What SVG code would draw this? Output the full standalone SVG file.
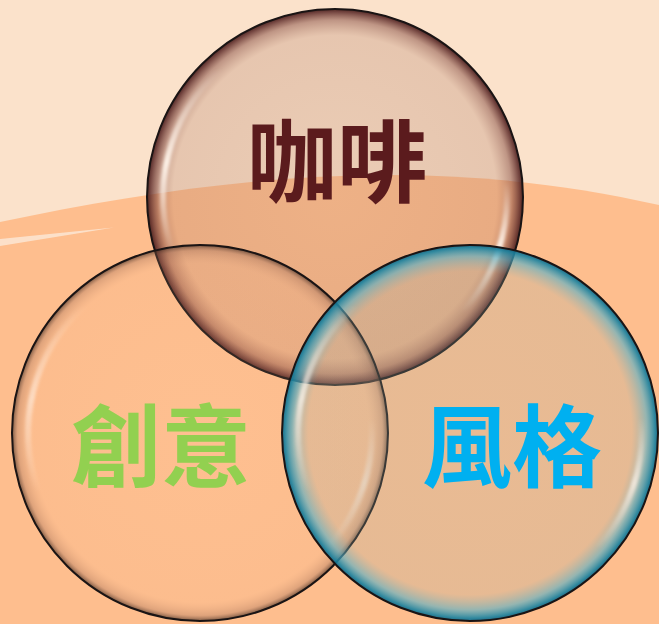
<svg xmlns="http://www.w3.org/2000/svg" width="659" height="624" viewBox="0 0 659 624">
  <defs>
    <style>
      .label { font-family: "Noto Sans CJK TC", "Noto Sans CJK SC", sans-serif; font-weight: 700; font-size: 90px; text-anchor: middle; dominant-baseline: central; }
      .edge { fill: none; stroke: #1a1414; stroke-width: 2; }
      .hl { fill: none; stroke: url(#hlGrad); stroke-width: 6; stroke-linecap: round; filter: url(#soft); }
    </style>
    <radialGradient id="gTop" cx="50%" cy="50%" r="50%">
      <stop offset="0" stop-color="rgb(180,130,105)" stop-opacity="0.22"/>
      <stop offset="0.86" stop-color="rgb(175,122,100)" stop-opacity="0.27"/>
      <stop offset="0.94" stop-color="rgb(130,72,62)" stop-opacity="0.5"/>
      <stop offset="0.985" stop-color="rgb(90,40,38)" stop-opacity="0.85"/>
      <stop offset="1" stop-color="rgb(70,30,28)" stop-opacity="0.95"/>
    </radialGradient>
    <radialGradient id="gLeft" cx="50%" cy="50%" r="50%">
      <stop offset="0" stop-color="rgb(255,205,165)" stop-opacity="0.1"/>
      <stop offset="0.9" stop-color="rgb(240,180,140)" stop-opacity="0.12"/>
      <stop offset="0.97" stop-color="rgb(150,100,80)" stop-opacity="0.3"/>
      <stop offset="1" stop-color="rgb(60,40,30)" stop-opacity="0.7"/>
    </radialGradient>
    <radialGradient id="gRight" cx="50%" cy="50%" r="50%">
      <stop offset="0" stop-color="rgb(160,175,165)" stop-opacity="0.22"/>
      <stop offset="0.86" stop-color="rgb(160,175,165)" stop-opacity="0.25"/>
      <stop offset="0.94" stop-color="rgb(80,175,200)" stop-opacity="0.6"/>
      <stop offset="0.985" stop-color="rgb(25,130,160)" stop-opacity="0.9"/>
      <stop offset="1" stop-color="rgb(20,100,130)" stop-opacity="0.95"/>
    </radialGradient>
    <linearGradient id="hlGrad" x1="0" y1="0" x2="0" y2="1">
      <stop offset="0" stop-color="#fff4ea" stop-opacity="0"/>
      <stop offset="0.5" stop-color="#fff4ea" stop-opacity="0.95"/>
      <stop offset="1" stop-color="#fff4ea" stop-opacity="0"/>
    </linearGradient>
    <filter id="soft" x="-20%" y="-20%" width="140%" height="140%">
      <feGaussianBlur stdDeviation="1.5"/>
    </filter>
  </defs>

  <g id="background">
    <rect x="0" y="0" width="659" height="624" fill="#FBE2CB"/>
    <path d="M0,222 C200,180 420,150 659,205 L659,624 L0,624 Z" fill="#FEBE8E"/>
    <path d="M0,239 L114,227.5 L0,246 Z" fill="#FCE6D4" opacity="0.85"/>
  </g>

  <g id="node-coffee">
    <circle cx="335" cy="197" r="188" fill="url(#gTop)"/>
    <path class="hl" d="M173.4,255.8 A172,172 0 0 1 219.9,69.2"/>
    <path class="hl" d="M506.3,182 A172,172 0 0 1 462.8,312.1"/>
    <circle class="edge" cx="335" cy="197" r="188"/>
  </g>

  <g id="node-creative">
    <circle cx="200" cy="433" r="188" fill="url(#gLeft)"/>
    <path class="hl" d="M38.4,491.8 A172,172 0 0 1 84.9,305.2" opacity="0.6"/>
    <path class="hl" d="M371.3,418 A172,172 0 0 1 327.8,548.1" opacity="0.6"/>
    <circle class="edge" cx="200" cy="433" r="188"/>
  </g>

  <g id="node-style">
    <circle cx="470" cy="433" r="188" fill="url(#gRight)"/>
    <path class="hl" d="M308.4,491.8 A172,172 0 0 1 354.9,305.2" opacity="0.8"/>
    <path class="hl" d="M641.3,418 A172,172 0 0 1 597.8,548.1" opacity="0.8"/>
    <circle class="edge" cx="470" cy="433" r="188"/>
  </g>

  <g id="labels">
    <text class="label" x="337" y="156" fill="#5B1B1D">咖啡</text>
    <text class="label" x="161" y="441" fill="#92D050">創意</text>
    <text class="label" x="512" y="441" fill="#00B0F0">風格</text>
  </g>

  <g id="connectors"></g>
</svg>
